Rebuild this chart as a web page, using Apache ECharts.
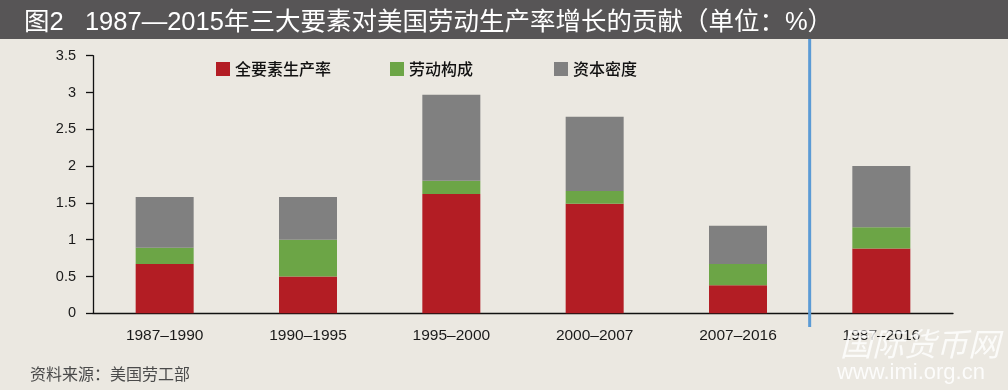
<!DOCTYPE html>
<html>
<head>
<meta charset="utf-8">
<script src="https://cdn.jsdelivr.net/npm/echarts@6/dist/echarts.min.js"></script>
<style>
html,body{margin:0;padding:0;background:#ebe8e1;}
#c{width:1008px;height:390px;}
</style>
</head>
<body>
<div id="c"></div>
<script>
const categories = ['1987–1990','1990–1995','1995–2000','2000–2007','2007–2016','1987–2016'];
const tfpValues = [0.67, 0.50, 1.62, 1.49, 0.38, 0.88];
const laborValues = [0.22, 0.50, 0.18, 0.17, 0.29, 0.29];
const capitalValues = [0.69, 0.58, 1.17, 1.01, 0.52, 0.83];
const seriesNames = ['全要素生产率','劳动构成','资本密度'];
const titleText = '图2   1987—2015年三大要素对美国劳动生产率增长的贡献（单位：%）';
const sourceText = '资料来源：美国劳工部';

const colors = ['#b31d24','#6ca546','#808080'];
const chart = echarts.init(document.getElementById('c'), null, {renderer:'canvas'});
const legendLeft = [216, 390, 554];
const legendFont = {fontSize:16, color:'#111', fontFamily:'Noto Sans CJK SC', fontWeight:500};

const option = {
  backgroundColor:'#ebe8e1',
  animation:false,
  title:[{
    text:titleText, left:19, top:5,
    textStyle:{color:'#ffffff', fontSize:25.5, fontWeight:'normal', fontFamily:'Liberation Sans, Noto Sans CJK SC'}
  },{
    text:sourceText, left:25, top:361,
    textStyle:{color:'#4a4a4a', fontSize:16, fontWeight:'normal', fontFamily:'Noto Sans CJK SC'}
  }],
  legend: seriesNames.map((n,i)=>({
    data:[n], left:legendLeft[i], top:61, padding:0,
    itemWidth:14, itemHeight:14, icon:'rect', itemGap:0,
    textStyle:legendFont
  })),
  grid:{left:93, right:55, top:55.7, bottom:76.7},
  xAxis:{
    type:'category', data:categories,
    axisLine:{lineStyle:{color:'#111', width:1.3}},
    axisTick:{length:7, lineStyle:{color:'#111', width:1.3}},
    axisLabel:{color:'#1a1a1a', fontSize:15.5, margin:14, fontFamily:'Liberation Sans'}
  },
  yAxis:{
    type:'value', min:0, max:3.5, interval:0.5,
    splitLine:{show:false},
    axisLine:{show:true, lineStyle:{color:'#111', width:1.3}},
    axisTick:{show:true, length:7, lineStyle:{color:'#111', width:1.3}},
    axisLabel:{color:'#1a1a1a', fontSize:14.5, margin:17, fontFamily:'Liberation Sans'}
  },
  series:[
    {name:seriesNames[0], type:'bar', stack:'t', data:tfpValues, barWidth:58, itemStyle:{color:colors[0]}},
    {name:seriesNames[1], type:'bar', stack:'t', data:laborValues, barWidth:58, itemStyle:{color:colors[1]}},
    {name:seriesNames[2], type:'bar', stack:'t', data:capitalValues, barWidth:58, itemStyle:{color:colors[2]}}
  ],
  graphic:[{
    type:'rect', shape:{x:0,y:0,width:1008,height:39}, style:{fill:'#575556'}, z:-1
  }]
};
chart.setOption(option);

// separator between the last period and the full-period bar, positioned from the axis
const xa = chart.convertToPixel({xAxisIndex:0}, 4);
const xb = chart.convertToPixel({xAxisIndex:0}, 5);
const sepX = (xa + xb) / 2;
chart.setOption({
  graphic:[
    {type:'rect', shape:{x:0,y:0,width:1008,height:39}, style:{fill:'#575556'}, z:-1},
    {type:'line', shape:{x1:sepX, y1:39, x2:sepX, y2:327}, style:{stroke:'#5b9bd5', lineWidth:3}, z:10},
    {type:'text', left:840, top:328, style:{text:'国际货币网', fill:'rgba(255,255,255,0.8)', font:'italic 32px Noto Sans CJK SC', shadowColor:'rgba(0,0,0,0.18)', shadowBlur:5}, z:20},
    {type:'text', left:837, top:362, style:{text:'www.imi.org.cn', fill:'rgba(255,255,255,0.85)', font:'22px Liberation Sans', shadowColor:'rgba(0,0,0,0.15)', shadowBlur:4}, z:20}
  ]
});
</script>
</body>
</html>
